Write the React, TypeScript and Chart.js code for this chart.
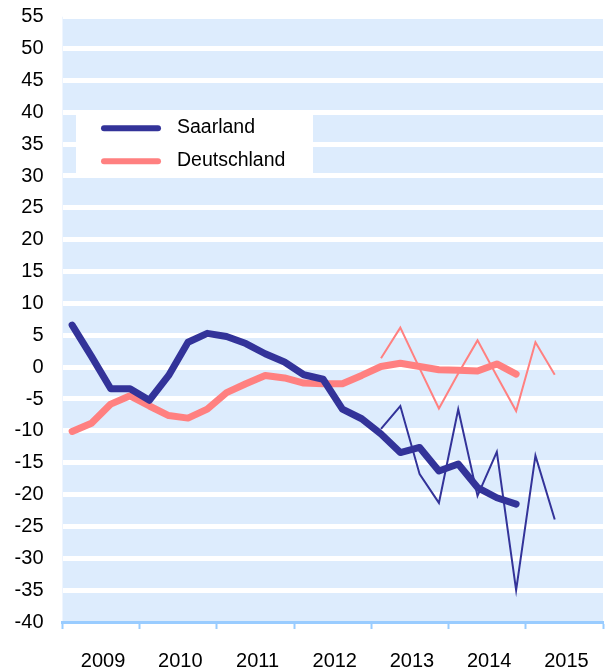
import React, { useEffect, useRef } from 'react';
import { Chart, registerables } from 'chart.js';

Chart.register(...registerables);

// ---- data ----
const years = ['2009', '2010', '2011', '2012', '2013', '2014', '2015'];
const seriesNames = ['Saarland', 'Deutschland'];

// smoothed series, quarterly Q1 2009 .. Q4 2014
const saarlandTrend = [6.6, 1.7, -3.4, -3.4, -5.2, -1.3, 3.9, 5.3, 4.8, 3.7, 2.1, 0.8, -1.2, -1.9, -6.6, -8.1, -10.5, -13.4, -12.6, -16.3, -15.2, -18.9, -20.5, -21.5];
const deutschlandTrend = [-10.1, -8.8, -5.8, -4.5, -6.1, -7.6, -8.0, -6.6, -4.0, -2.6, -1.3, -1.7, -2.5, -2.6, -2.6, -1.3, 0.1, 0.6, 0.1, -0.4, -0.5, -0.6, 0.5, -1.1];
const trendStart = 0; // quarter index of first trend value (Q1 2009)

// raw quarterly values, Q1 2013 .. Q2 2015
const saarlandQuarterly = [-9.7, -6.1, -16.8, -21.3, -6.6, -20.2, -13.3, -35.0, -13.9, -23.9];
const deutschlandQuarterly = [1.4, 6.2, -0.2, -6.5, -1.0, 4.2, -1.4, -6.9, 3.9, -1.2];
const quarterlyStart = 16; // Q1 2013

const yMin = -40;
const yMax = 55;
const yStep = 5;

const NAVY = '#333399';
const PINK = '#ff8080';
const FONT = "'Liberation Sans', Arial, sans-serif";

const toPoints = (values: number[], start: number) =>
  values.map((v, i) => ({ x: start + i + 0.5, y: v }));

const backgroundPlugin = {
  id: 'plotBackground',
  beforeDraw(chart: any) {
    const { ctx, chartArea } = chart;
    ctx.save();
    ctx.fillStyle = '#ddecfd';
    ctx.fillRect(chartArea.left, chartArea.top, chartArea.right - chartArea.left, chartArea.bottom - chartArea.top);
    ctx.restore();
  },
};

const legendPlugin = {
  id: 'boxLegend',
  afterDraw(chart: any) {
    const { ctx, chartArea } = chart;
    const x0 = chartArea.left + 13.5;
    const y0 = chartArea.top + 98;
    ctx.save();
    ctx.fillStyle = '#ffffff';
    ctx.fillRect(x0, y0, 237, 59);
    const entries = [0, 1];
    entries.forEach((di, k) => {
      const ds = chart.data.datasets[di];
      const cy = y0 + 13.5 + k * 33;
      ctx.strokeStyle = ds.borderColor;
      ctx.lineWidth = 6;
      ctx.lineCap = 'round';
      ctx.beginPath();
      ctx.moveTo(x0 + 28, cy);
      ctx.lineTo(x0 + 82, cy);
      ctx.stroke();
      ctx.fillStyle = '#000';
      ctx.font = `19.5px ${FONT}`;
      ctx.textAlign = 'left';
      ctx.textBaseline = 'middle';
      ctx.fillText(ds.label, x0 + 101, cy - 0.5);
    });
    ctx.restore();
  },
};

export default function App() {
  const canvasRef = useRef<HTMLCanvasElement | null>(null);

  useEffect(() => {
    if (!canvasRef.current) return;
    const chart = new Chart(canvasRef.current, {
      type: 'line',
      data: {
        datasets: [
          {
            label: seriesNames[0],
            data: toPoints(saarlandTrend, trendStart),
            borderColor: NAVY,
            borderWidth: 7,
            borderCapStyle: 'round',
            borderJoinStyle: 'round',
            pointRadius: 0,
            tension: 0,
          },
          {
            label: seriesNames[1],
            data: toPoints(deutschlandTrend, trendStart),
            borderColor: PINK,
            borderWidth: 7,
            borderCapStyle: 'round',
            borderJoinStyle: 'round',
            pointRadius: 0,
            tension: 0,
          },
          {
            label: seriesNames[0] + ' (Quartal)',
            data: toPoints(saarlandQuarterly, quarterlyStart),
            borderColor: NAVY,
            borderWidth: 2,
            pointRadius: 0,
            tension: 0,
          },
          {
            label: seriesNames[1] + ' (Quartal)',
            data: toPoints(deutschlandQuarterly, quarterlyStart),
            borderColor: PINK,
            borderWidth: 2,
            pointRadius: 0,
            tension: 0,
          },
        ],
      },
      options: {
        animation: false,
        responsive: false,
        devicePixelRatio: 1,
        layout: { padding: { left: 0, right: 8, top: 16.7, bottom: 0 } },
        plugins: {
          legend: { display: false },
          tooltip: { enabled: false },
        },
        scales: {
          x: {
            type: 'linear',
            min: 0,
            max: years.length * 4,
            afterFit: (scale: any) => {
              scale.height = 50;
              scale.paddingLeft = 0;
              scale.paddingRight = 0;
            },
            border: { display: true, color: '#99ccff', width: 3 },
            grid: {
              drawOnChartArea: false,
              drawTicks: true,
              tickLength: 7,
              tickWidth: 2,
              tickColor: (ctx: any) =>
                ctx.tick && ctx.tick.value % 4 === 0 ? '#99ccff' : 'rgba(0,0,0,0)',
            },
            ticks: {
              stepSize: 2,
              autoSkip: false,
              maxRotation: 0,
              padding: 20,
              labelOffset: 2,
              color: '#000',
              font: { family: FONT, size: 20 },
              callback: (v: any) => (v % 4 === 2 ? years[(v - 2) / 4] : ''),
            },
          },
          y: {
            min: yMin,
            max: yMax,
            afterFit: (scale: any) => {
              scale.width = 62.5;
              scale.paddingTop = 0;
              scale.paddingBottom = 0;
            },
            border: { display: false },
            grid: {
              drawTicks: false,
              lineWidth: 5,
              color: (ctx: any) =>
                ctx.tick && ctx.tick.value === yMin ? 'rgba(0,0,0,0)' : '#ffffff',
            },
            ticks: {
              stepSize: yStep,
              padding: 19,
              color: '#000',
              font: { family: FONT, size: 20 },
            },
          },
        },
      },
      plugins: [backgroundPlugin, legendPlugin],
    } as any);
    return () => chart.destroy();
  }, []);

  return (
    <div style={{ position: 'absolute', left: 0, top: 0, width: 611, height: 672, background: '#fff' }}>
      <canvas ref={canvasRef} width={611} height={672} style={{ width: 611, height: 672, display: 'block' }} />
    </div>
  );
}
